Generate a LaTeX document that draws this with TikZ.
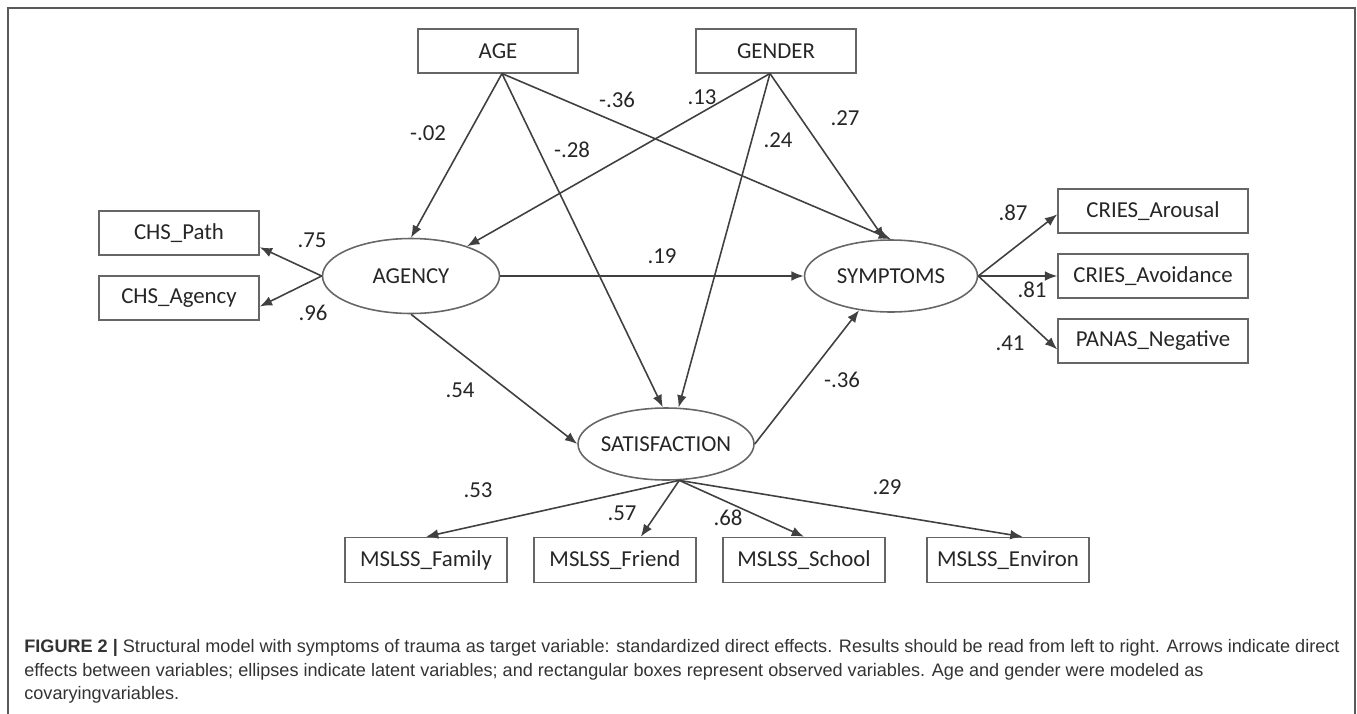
\documentclass[tikz,border=0pt]{standalone}
\usepackage{fontspec}
\setmainfont{Carlito}
\newfontfamily\capfont{Liberation Sans}
\usetikzlibrary{shapes.geometric,arrows.meta}
\newcommand{\lvtext}[1]{\makebox[0pt]{#1}}

\begin{document}
\begin{tikzpicture}[x=0.02cm,y=-0.02cm,
    obs/.style={draw=black!60, line width=0.9pt, rectangle, minimum width=3.2cm,
      minimum height=0.87cm, inner sep=0pt, text=black!85, font=\fontsize{13}{15}\selectfont},
    latent/.style={draw=black!60, line width=0.9pt, ellipse, inner sep=0pt,
      text=black!85, font=\fontsize{13}{15}\selectfont},
    effect/.style={draw=black!75, line width=0.9pt, -{Latex[length=7pt,width=5.5pt]}},
    coef/.style={text=black!85, inner sep=1pt, font=\fontsize{13}{15}\selectfont},
    capline/.style={anchor=base west, inner sep=0pt, text=black!80,
      font=\capfont\fontsize{10.3}{13}\selectfont}]

            \useasboundingbox (0,0) rectangle (1357,714);

            % Frame round the figure
            \draw[black!65, line width=0.8pt] (8,714) -- (8,8) -- (1355,8) -- (1355,714);

            % Covariates
            \node[obs] (age) at (498,51) {AGE};
            \node[obs] (gender) at (776,51) {GENDER};

            % Latent variables
            \node[latent, minimum width=3.54cm, minimum height=1.5cm] (agency) at (411,276) {\lvtext{AGENCY}};
            \node[latent, minimum width=3.46cm, minimum height=1.44cm] (symptoms) at (891,276) {\lvtext{SYMPTOMS}};
            \node[latent, minimum width=3.52cm, minimum height=1.44cm] (satisf) at (666,444) {\lvtext{SATISFACTION}};

            % Observed variables
            \node[obs] (chspath) at (179,233) {CHS\_Path};
            \node[obs] (chsagency) at (179,298) {CHS\_Agency};
            \node[obs, minimum width=3.8cm] (arousal) at (1153,211) {CRIES\_Arousal};
            \node[obs, minimum width=3.8cm] (avoid) at (1153,276) {CRIES\_Avoidance};
            \node[obs, minimum width=3.8cm] (negative) at (1153,341) {PANAS\_Negative};
            \node[obs, minimum width=3.24cm, minimum height=0.9cm] (family) at (426,560) {MSLSS\_Family};
            \node[obs, minimum width=3.24cm, minimum height=0.9cm] (friend) at (615,560) {MSLSS\_Friend};
            \node[obs, minimum width=3.24cm, minimum height=0.9cm] (school) at (804,560) {MSLSS\_School};
            \node[obs, minimum width=3.24cm, minimum height=0.9cm] (environ) at (1008,560) {MSLSS\_Environ};

            % Direct effects (loop)
            \foreach \a/\b in {age.-80/agency.north, age.-80/satisf.95, age.-80/symptoms.north,
                gender.-105/agency.28, gender.-105/satisf.71, gender.-105/symptoms.100,
                agency.east/symptoms.west, agency.south/satisf.west, satisf.east/symptoms.227,
                agency.west/chspath.-10, agency.west/chsagency.-6,
                symptoms.east/arousal.182, symptoms.east/avoid.west, symptoms.east/negative.185,
                satisf.-70/family.north, satisf.-70/friend.42, satisf.-70/school.north, satisf.-70/environ.58}
                \draw[effect] (\a) -- (\b);

            % Coefficients (loop)
            \foreach \nm/\x/\y/\val in {a1/428/133/-.02, a2/572/150/-.28, a3/617/100/-.36,
                g1/702/97/.13, g2/778/140/.24, g3/845/118/.27,
                ag1/662/256/.19, ag2/460/390/.54, ch1/312/240/.75, ch2/313/313/.96,
                sa1/842/380/-.36, sy1/1013/213/.87, sy2/1032/290/.81, sy3/1010/343/.41,
                ms1/478/490/.53, ms2/622/513/.57, ms3/728/518/.68, ms4/887/487/.29}
                \node[coef] (\nm) at (\x,\y) {\val};

            % Caption
            \node[capline] (cap1) at (24,652) {\textbf{FIGURE 2 |} Structural model with symptoms of trauma as target variable: standardized direct effects. Results should be read from left to right. Arrows indicate direct};
            \node[capline] (cap2) at (24,676) {effects between variables; ellipses indicate latent variables; and rectangular boxes represent observed variables. Age and gender were modeled as};
            \node[capline] (cap3) at (24,699) {covaryingvariables.};

        \end{tikzpicture}
\end{document}
